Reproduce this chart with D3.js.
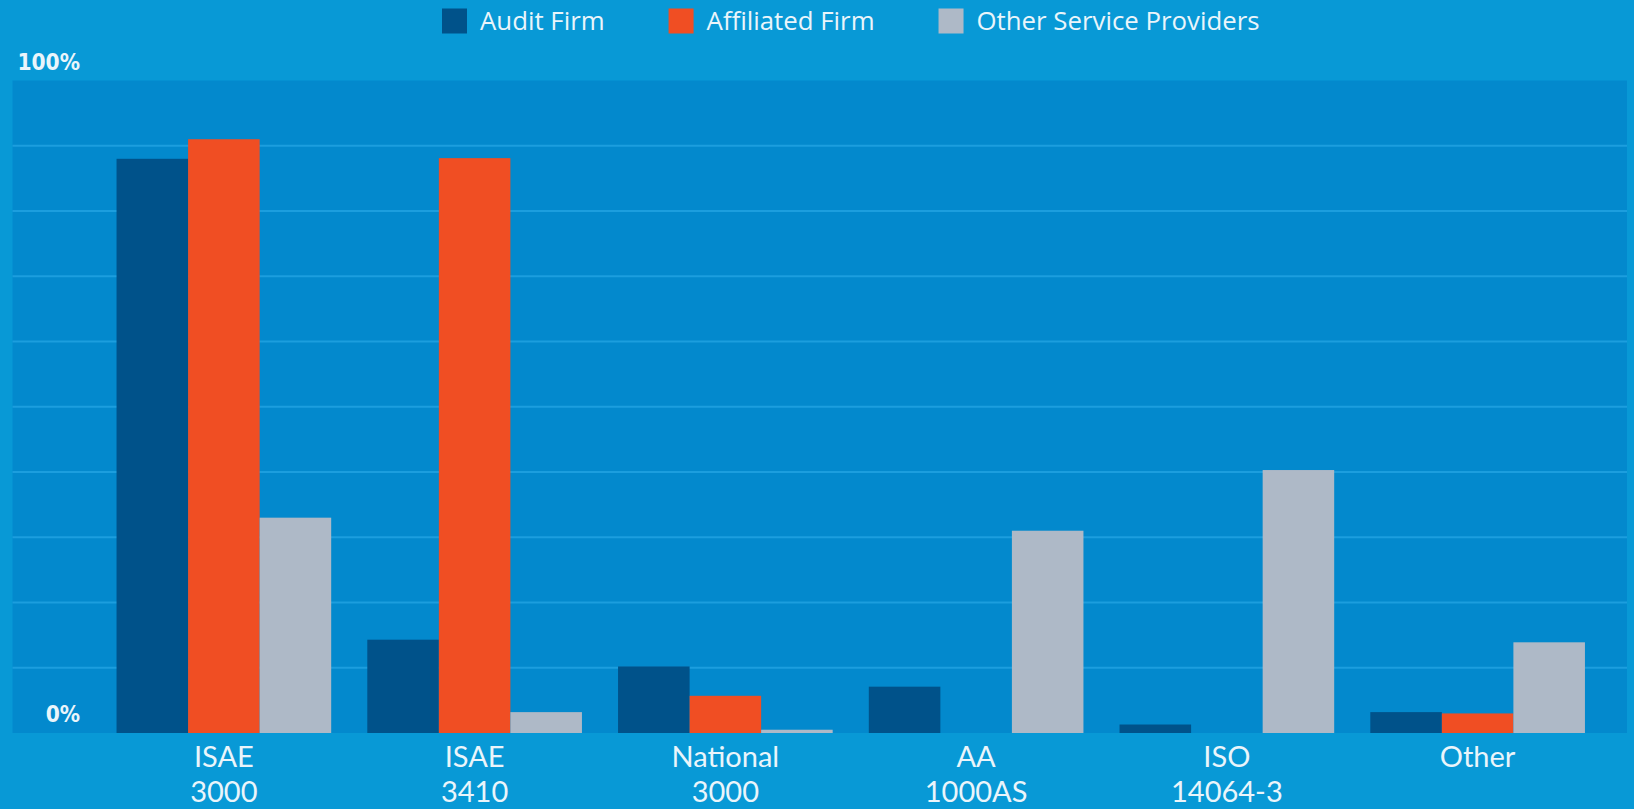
<!DOCTYPE html>
<html>
<head>
<meta charset="utf-8">
<script src="https://cdn.jsdelivr.net/npm/d3@7"></script>
<style>
  body { margin: 0; background: #0899d6; }
  svg { display: block; }
</style>
</head>
<body>
<script>
// chart data (percent)
var categories = ["ISAE|3000", "ISAE|3410", "National|3000", "AA|1000AS", "ISO|14064-3", "Other"];
var seriesNames = ["Audit Firm", "Affiliated Firm", "Other Service Providers"];
var auditFirm = [88.0, 14.3, 10.2, 7.1, 1.3, 3.2];
var affiliatedFirm = [91.0, 88.1, 5.7, 0, 0, 3.0];
var otherProviders = [33.0, 3.2, 0.5, 31.0, 40.3, 13.9];
var yTickLabels = ["0%", "100%"];

var seriesColors = ["#00528a", "#f04e23", "#aeb9c7"];

var width = 1634, height = 809;
var plot = { left: 12.5, right: 1627, top: 80.5, bottom: 733 };

var svg = d3.select("body")
    .append("svg")
    .attr("width", width)
    .attr("height", height);

// background
svg.append("rect")
    .attr("width", width)
    .attr("height", height)
    .attr("fill", "#0899d6");

svg.append("rect")
    .attr("x", plot.left)
    .attr("y", plot.top)
    .attr("width", plot.right - plot.left)
    .attr("height", plot.bottom - plot.top)
    .attr("fill", "#0389cd");

// scales
var x0 = d3.scaleBand()
    .domain(categories)
    .range([98.5, 1603])
    .paddingInner(0.144)
    .paddingOuter(0.072);

var x1 = d3.scaleBand()
    .domain(seriesNames)
    .range([0, x0.bandwidth()]);

var y = d3.scaleLinear()
    .domain([0, 100])
    .range([plot.bottom, plot.top]);

// gridlines every 10%
svg.append("g")
    .selectAll("line")
    .data(d3.range(10, 100, 10))
    .enter().append("line")
    .attr("x1", plot.left)
    .attr("x2", plot.right)
    .attr("y1", function (d) { return y(d); })
    .attr("y2", function (d) { return y(d); })
    .attr("stroke", "#1c9ede")
    .attr("stroke-width", 2);

// bars
var rows = categories.map(function (c, i) {
    return {
        category: c,
        values: [auditFirm[i], affiliatedFirm[i], otherProviders[i]]
    };
});

var groups = svg.append("g")
    .selectAll("g")
    .data(rows)
    .enter().append("g")
    .attr("transform", function (d) { return "translate(" + x0(d.category) + ",0)"; });

groups.selectAll("rect")
    .data(function (d) {
        return d.values.map(function (v, j) { return { name: seriesNames[j], value: v, color: seriesColors[j] }; });
    })
    .enter().append("rect")
    .attr("x", function (d) { return x1(d.name); })
    .attr("y", function (d) { return y(d.value); })
    .attr("width", x1.bandwidth())
    .attr("height", function (d) { return y(0) - y(d.value); })
    .attr("fill", function (d) { return d.color; });

// category labels (two lines)
var xLabels = svg.append("g")
    .selectAll("text")
    .data(categories)
    .enter().append("text")
    .attr("x", function (d) { return x0(d) + x0.bandwidth() / 2; })
    .attr("y", 767)
    .attr("text-anchor", "middle")
    .attr("fill", "#eaf5fb")
    .style("font-family", "Lato, 'Open Sans', sans-serif")
    .style("font-size", "29px");

xLabels.selectAll("tspan")
    .data(function (d) { return d.split("|"); })
    .enter().append("tspan")
    .attr("x", function () { return d3.select(this.parentNode).attr("x"); })
    .attr("dy", function (d, i) { return i ? 35 : 0; })
    .text(function (d) { return d; });

// y labels
svg.append("g")
    .selectAll("text")
    .data(yTickLabels)
    .enter().append("text")
    .attr("x", 80)
    .attr("y", function (d, i) { return i ? 70 : 722; })
    .attr("text-anchor", "end")
    .attr("fill", "#eaf5fb")
    .style("font-family", "'DejaVu Sans Condensed', 'DejaVu Sans', sans-serif")
    .style("font-stretch", "condensed")
    .style("font-weight", "bold")
    .style("font-size", "22.5px")
    .text(function (d) { return d; });

// legend
var legend = svg.append("g").attr("transform", "translate(442,0)");
var lx = 0;
seriesNames.forEach(function (name, i) {
    var item = legend.append("g").attr("transform", "translate(" + lx + ",0)");
    item.append("rect")
        .attr("y", 8.5)
        .attr("width", 25)
        .attr("height", 25)
        .attr("fill", seriesColors[i]);
    var t = item.append("text")
        .attr("x", 38)
        .attr("y", 30)
        .attr("fill", "#eaf5fb")
        .style("font-family", "'Open Sans', 'Noto Sans', sans-serif")
        .style("font-size", "25.8px")
        .text(name);
    lx += 38 + t.node().getComputedTextLength() + 64;
});
</script>
</body>
</html>
